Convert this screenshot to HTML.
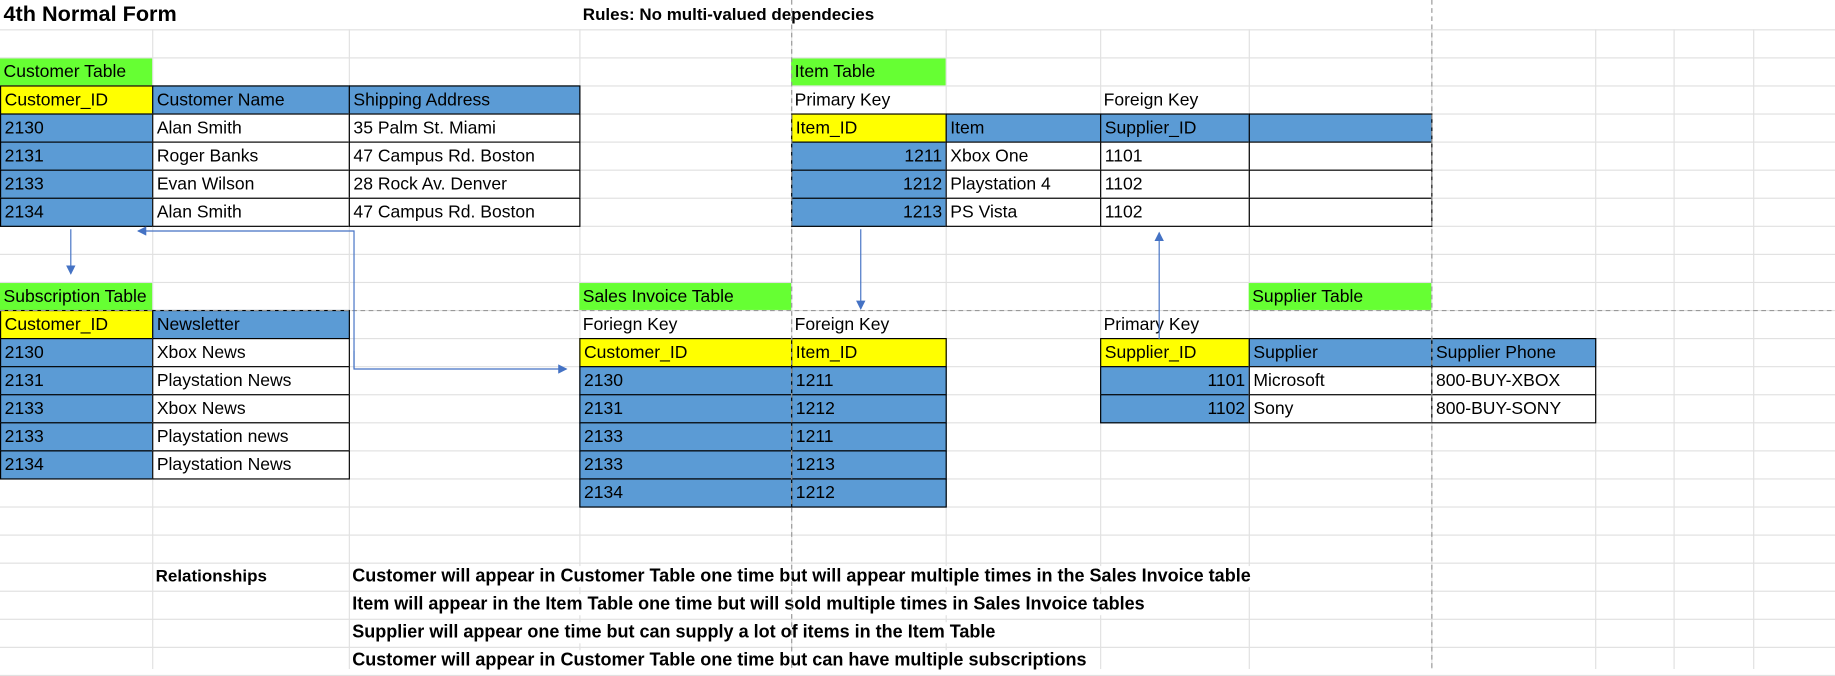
<!DOCTYPE html>
<html><head><meta charset="utf-8">
<style>
html,body{margin:0;padding:0;background:#fff;overflow:hidden;}
#wrap{position:absolute;left:0;top:0;width:1568px;height:572px;transform-origin:0 0;transform:scale(1.1703,1.1696);font-family:"Liberation Sans",sans-serif;font-size:15px;color:#000;}
.g{position:absolute;background:#e1e1e1;}
.c{position:absolute;box-sizing:border-box;padding:0 3px;line-height:23px;white-space:nowrap;overflow:visible;}
.b{border:1px solid #000;}
.t{position:absolute;white-space:nowrap;}
</style></head><body>
<div id="wrap">
<svg id="arrows" width="1568" height="572" style="position:absolute;left:0;top:0;z-index:5">
<defs><marker id="ah" markerWidth="8" markerHeight="8" refX="7" refY="4" orient="auto"><path d="M0,0 L8,4 L0,8 z" fill="#4472c4"/></marker></defs>
<line x1="676.5" y1="0" x2="676.5" y2="572" stroke="#999" stroke-dasharray="4,3"/>
<line x1="1223.5" y1="0" x2="1223.5" y2="572" stroke="#999" stroke-dasharray="4,3"/>
<line x1="0" y1="265.5" x2="1568" y2="265.5" stroke="#999" stroke-dasharray="4,3"/>
<g stroke="#4472c4" stroke-width="1" fill="none">
<line x1="60.5" y1="196" x2="60.5" y2="234" marker-end="url(#ah)"/>
<polyline points="302.5,315 302.5,197.5 118,197.5" marker-end="url(#ah)"/>
<polyline points="302.5,300 302.5,315.5 484,315.5" marker-end="url(#ah)"/>
<line x1="735.5" y1="196" x2="735.5" y2="264" marker-end="url(#ah)"/>
<line x1="990.5" y1="290" x2="990.5" y2="199" marker-end="url(#ah)"/>
</g>
</svg>
</div>
<script>
const X=[0,130,298,495,676,808,940,1067,1223,1363,1430,1498,1568];
function Y(r){return r===1?0:25+(r-2)*24;}
const wrap=document.getElementById('wrap');
for(let i=1;i<X.length;i++){const d=document.createElement('div');d.className='g';d.style.cssText+='left:'+X[i]+'px;top:25px;width:1px;height:547px';


wrap.appendChild(d);}
for(let r=2;r<=25;r++){const d=document.createElement('div');d.className='g';d.style.cssText+='left:0;top:'+Y(r)+'px;width:1568px;height:1px';


wrap.appendChild(d);}
const B='#5b9bd5',YL='#ffff00',GR='#66ff33';
function cell(name,c,r,txt,bg,right,border){
 const d=document.createElement('div');d.className='c'+(border?' b':'');
 d.style.left=X[c]+'px';d.style.top=(Y(r)+(border?0:1))+'px';
 d.style.width=(X[c+1]-X[c]+(border?1:0))+'px';d.style.height=(border?25:23)+'px';
 if(bg)d.style.background=bg;
 if(right)d.style.textAlign='right';
 d.textContent=txt;
 
 
 wrap.appendChild(d);
}
cell('customer-table-title',0,3,'Customer Table',GR);
cell('customer-id-header',0,4,'Customer_ID',YL,0,1);
cell('customer-name-header',1,4,'Customer Name',B,0,1);
cell('shipping-address-header',2,4,'Shipping Address',B,0,1);
const cust=[['2130','Alan Smith','35 Palm St. Miami'],['2131','Roger Banks','47 Campus Rd. Boston'],['2133','Evan Wilson','28 Rock Av. Denver'],['2134','Alan Smith','47 Campus Rd. Boston']];
cust.forEach((row,i)=>{cell('customer-id-cell',0,5+i,row[0],B,0,1);cell('customer-name-cell',1,5+i,row[1],'#fff',0,1);cell('shipping-address-cell',2,5+i,row[2],'#fff',0,1);});
cell('subscription-table-title',0,11,'Subscription Table',GR);
cell('subscription-customer-id-header',0,12,'Customer_ID',YL,0,1);
cell('newsletter-header',1,12,'Newsletter',B,0,1);
const subs=[['2130','Xbox News'],['2131','Playstation News'],['2133','Xbox News'],['2133','Playstation news'],['2134','Playstation News']];
subs.forEach((row,i)=>{cell('subscription-customer-id-cell',0,13+i,row[0],B,0,1);cell('newsletter-cell',1,13+i,row[1],'#fff',0,1);});
cell('item-table-title',4,3,'Item Table',GR);
cell('item-primary-key-label',4,4,'Primary Key');
cell('item-foreign-key-label',6,4,'Foreign Key');
cell('item-id-header',4,5,'Item_ID',YL,0,1);
cell('item-header',5,5,'Item',B,0,1);
cell('item-supplier-id-header',6,5,'Supplier_ID',B,0,1);
cell('item-empty-header',7,5,'',B,0,1);
const items=[['1211','Xbox One','1101'],['1212','Playstation 4','1102'],['1213','PS Vista','1102']];
items.forEach((row,i)=>{cell('item-id-cell',4,6+i,row[0],B,1,1);cell('item-name-cell',5,6+i,row[1],'#fff',0,1);cell('item-supplier-id-cell',6,6+i,row[2],'#fff',0,1);cell('item-empty-cell',7,6+i,'','#fff',0,1);});
cell('sales-invoice-table-title',3,11,'Sales Invoice Table',GR);
cell('sales-foreign-key-label-1',3,12,'Foriegn Key');
cell('sales-foreign-key-label-2',4,12,'Foreign Key');
cell('sales-customer-id-header',3,13,'Customer_ID',YL,0,1);
cell('sales-item-id-header',4,13,'Item_ID',YL,0,1);
const sales=[['2130','1211'],['2131','1212'],['2133','1211'],['2133','1213'],['2134','1212']];
sales.forEach((row,i)=>{cell('sales-customer-id-cell',3,14+i,row[0],B,0,1);cell('sales-item-id-cell',4,14+i,row[1],B,0,1);});
cell('supplier-table-title',7,11,'Supplier Table',GR);
cell('supplier-primary-key-label',6,12,'Primary Key');
cell('supplier-id-header',6,13,'Supplier_ID',YL,0,1);
cell('supplier-header',7,13,'Supplier',B,0,1);
cell('supplier-phone-header',8,13,'Supplier Phone',B,0,1);
const sup=[['1101','Microsoft','800-BUY-XBOX'],['1102','Sony','800-BUY-SONY']];
sup.forEach((row,i)=>{cell('supplier-id-cell',6,14+i,row[0],B,1,1);cell('supplier-name-cell',7,14+i,row[1],'#fff',0,1);cell('supplier-phone-cell',8,14+i,row[2],'#fff',0,1);});
function txt(name,x,y,t,size,bold){const d=document.createElement('div');d.className='t';d.style.left=x+'px';d.style.top=y+'px';d.style.fontSize=size+'px';if(bold)d.style.fontWeight='bold';d.style.background='#fff';d.style.zIndex=2;d.textContent=t;


wrap.appendChild(d);}
txt('page-title',3,1,'4th Normal Form',18.5,1);
txt('rules-text',498,5,'Rules: No multi-valued dependecies',14.5,1);
txt('relationships-label',133,485,'Relationships',14.5,1);
const rel=['Customer will appear in Customer Table one time but will appear multiple times in the Sales Invoice table','Item will appear in the Item Table one time but will sold multiple times in Sales Invoice tables','Supplier will appear one time but can supply a lot of items in the Item Table','Customer will appear in Customer Table one time but can have multiple subscriptions'];
rel.forEach((t,i)=>txt('relationship-note',301,484+24*i,t,15.4,1));
</script>
</body></html>
